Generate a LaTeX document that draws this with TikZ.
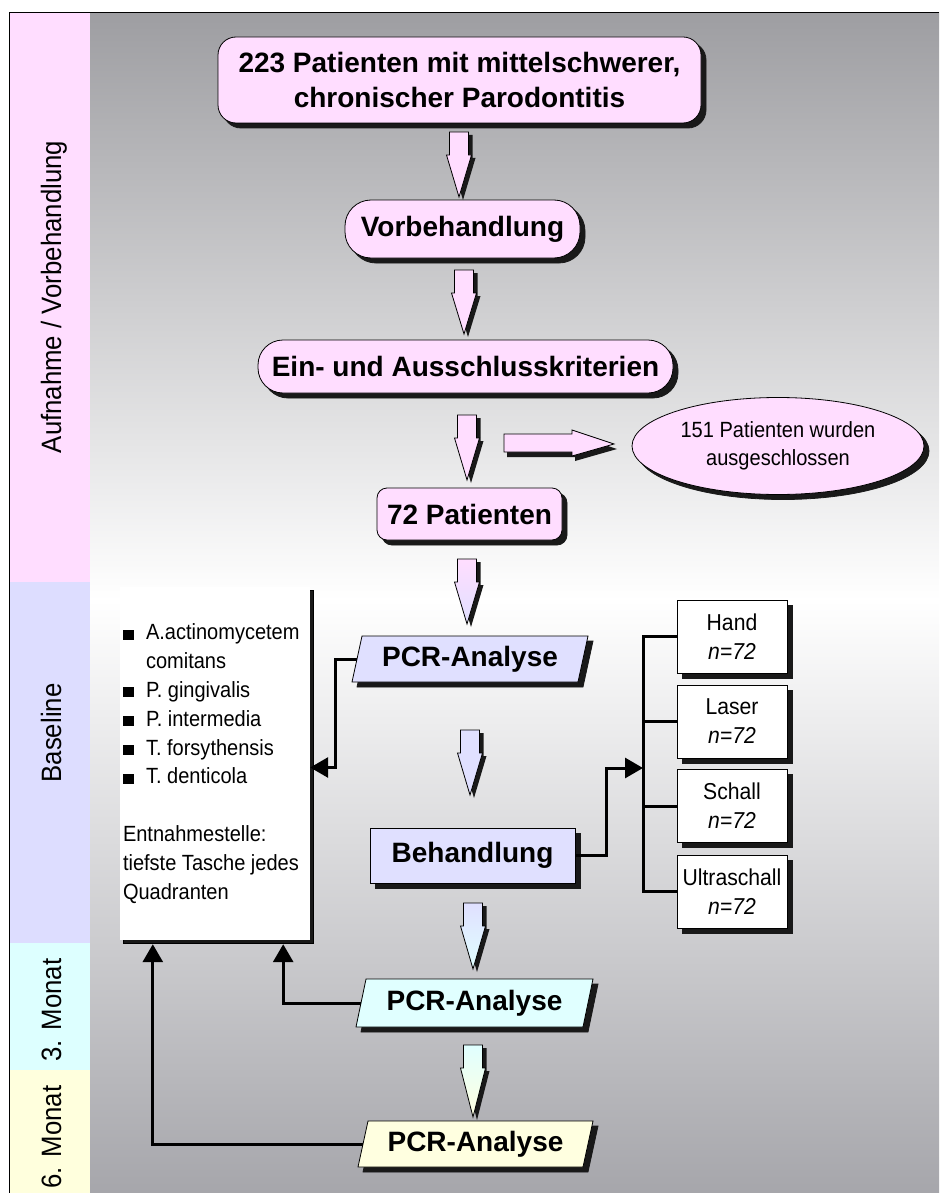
\documentclass[tikz,border=0pt]{standalone}
\usepackage{fontspec}
\setmainfont{Liberation Sans}
\newfontfamily\listfont[FakeStretch=0.91]{Liberation Sans}
\newfontfamily\sidefont[FakeStretch=0.92]{Liberation Sans}
\newfontfamily\boxfont[FakeStretch=0.92]{Liberation Sans}
\usetikzlibrary{shapes.geometric,arrows.meta,shadows}

\definecolor{pinkf}{RGB}{255,221,255}
\definecolor{lavf}{RGB}{224,224,255}
\definecolor{cyanf}{RGB}{224,255,255}
\definecolor{yelf}{RGB}{255,255,224}
\definecolor{bandpink}{RGB}{255,221,255}
\definecolor{bandblue}{RGB}{221,221,255}
\definecolor{bandcyan}{RGB}{221,255,255}
\definecolor{bandyel}{RGB}{255,255,221}
\definecolor{bgtop}{RGB}{158,158,162}
\definecolor{bgbot}{RGB}{166,166,171}
\definecolor{shd}{RGB}{25,25,25}

\newcommand\blockdown[5]{%
  \fill[shd,shift={(4,3)}] ({#1-9.5},{#2}) -- ({#1+9.5},{#2}) -- ({#1+9.5},{#2+23}) -- ({#1+12.5},{#2+23}) -- ({#1},{#3}) -- ({#1-12.5},{#2+23}) -- ({#1-9.5},{#2+23}) -- cycle;
  \draw[black,line width=0.8pt,top color=#4,bottom color=#5] ({#1-9.5},{#2}) -- ({#1+9.5},{#2}) -- ({#1+9.5},{#2+23}) -- ({#1+12.5},{#2+23}) -- ({#1},{#3}) -- ({#1-12.5},{#2+23}) -- ({#1-9.5},{#2+23}) -- cycle;
}

\tikzset{
  sh/.style={copy shadow={shadow xshift=5pt,shadow yshift=-5pt,fill=shd,draw=shd}},
  bigbox/.style={draw=black,line width=0.8pt,sh,font=\bfseries\fontsize{28}{35}\selectfont,align=center,inner sep=0pt},
  pcr/.style={bigbox,shape=trapezium,trapezium left angle=69,trapezium right angle=111,trapezium stretches body},
  treat/.style={draw=black,line width=0.8pt,fill=white,sh,minimum width=110pt,minimum height=73pt,inner sep=0pt,align=center,font=\boxfont\fontsize{23}{29}\selectfont},
  side/.style={rotate=90,anchor=base,font=\sidefont\fontsize{28}{30}\selectfont},
  conn/.style={line width=3pt,-{Triangle[length=18pt,width=20pt]}},
  bus/.style={line width=3pt,line cap=rect},
}

\begin{document}
\begin{tikzpicture}[x=1pt,y=-1pt]
\useasboundingbox (0,0) rectangle (939,1193);
\fill[white] (0,0) rectangle (939,1193);
% background
\shade[top color=bgtop,bottom color=white] (90,13) rectangle (939,600);
\shade[top color=white,bottom color=bgbot] (90,600) rectangle (939,1193);
% side bands
\fill[bandpink] (9,13) rectangle (90,582);
\fill[bandblue] (9,582) rectangle (90,943);
\fill[bandcyan] (9,943) rectangle (90,1070);
\fill[bandyel] (9,1070) rectangle (90,1193);
\draw[line width=1pt] (9,1193) -- (9,13) -- (939,13);
% side labels
\node[side] (lab1) at (61,297) {Aufnahme / Vorbehandlung};
\node[side] (lab2) at (61,733) {Baseline};
\node[side] (lab3) at (61,1010) {3. Monat};
\node[side] (lab4) at (61,1137) {6. Monat};

% main boxes
\node[bigbox,fill=pinkf,rounded corners=18pt,minimum width=483pt,minimum height=86pt] (b1) at (459.5,80) {223 Patienten mit mittelschwerer,\\chronischer Parodontitis};
\node[bigbox,fill=pinkf,rounded corners=26pt,minimum width=235pt,minimum height=58pt] (b2) at (462.5,229) {Vorbehandlung};
\node[bigbox,fill=pinkf,rounded corners=25pt,minimum width=415pt,minimum height=53pt] (b3) at (465.5,366.5) {Ein- und Ausschlusskriterien};
\node[bigbox,fill=pinkf,rounded corners=10pt,minimum width=185pt,minimum height=52pt] (b4) at (469.5,514) {72 Patienten};
\node[draw=black,line width=0.8pt,fill=pinkf,ellipse,sh,minimum width=292pt,minimum height=97pt,inner sep=0pt,align=center,font=\listfont\fontsize{22}{28}\selectfont] (ex) at (778,446) {151 Patienten wurden\\ausgeschlossen};

\node[pcr,fill=lavf,minimum width=236pt,minimum height=46pt] (p1) at (470,659) {PCR-Analyse};
\node[bigbox,fill=lavf,minimum width=205pt,minimum height=55pt] (beh) at (472.5,855.5) {Behandlung};
\node[pcr,fill=cyanf,minimum width=237pt,minimum height=48pt] (p2) at (474.5,1003) {PCR-Analyse};
\node[pcr,fill=yelf,minimum width=235pt,minimum height=46pt] (p3) at (475.5,1144) {PCR-Analyse};

% list box
\node[fill=white,copy shadow={shadow xshift=3pt,shadow yshift=-3pt,fill=shd},minimum width=190pt,minimum height=353pt,inner sep=0pt] (list) at (215,763.5) {};
\node[anchor=west,inner sep=0pt,align=left,font=\listfont\fontsize{22}{28.8}\selectfont] (listtxt) at ([xshift=3pt]list.west) {%
\makebox[23pt][l]{\rule{11pt}{10pt}}A.actinomycetem\\
\hspace*{23pt}comitans\\
\makebox[23pt][l]{\rule{11pt}{10pt}}P. gingivalis\\
\makebox[23pt][l]{\rule{11pt}{10pt}}P. intermedia\\
\makebox[23pt][l]{\rule{11pt}{10pt}}T. forsythensis\\
\makebox[23pt][l]{\rule{11pt}{10pt}}T. denticola\\[28.8pt]
Entnahmestelle:\\
tiefste Tasche jedes\\
Quadranten};

% treatment boxes
\node[treat] (hand) at (732,636.5) {Hand\\\textit{n=72}};
\node[treat] (laser) at (732,721.5) {Laser\\\textit{n=72}};
\node[treat] (schall) at (732,806) {Schall\\\textit{n=72}};
\node[treat] (ultra) at (732,891.5) {Ultraschall\\\textit{n=72}};

% block arrows
\blockdown{459}{132}{197}{pinkf}{pinkf}
\blockdown{464}{270}{334}{pinkf}{pinkf}
\blockdown{467}{415}{480}{pinkf}{pinkf}
\blockdown{467}{559}{624}{pinkf}{lavf}
\blockdown{470}{730}{795}{lavf}{lavf}
\blockdown{473}{903}{969}{lavf}{cyanf}
\blockdown{473}{1045}{1117}{cyanf}{yelf}

% right arrow
\fill[shd,shift={(3,5)}] (504,434) -- (572,434) -- (572,430) -- (614,444) -- (572,456) -- (572,452) -- (504,452) -- cycle;
\draw[black,line width=0.8pt,fill=pinkf] (504,434) -- (572,434) -- (572,430) -- (614,444) -- (572,456) -- (572,452) -- (504,452) -- cycle;

% connectors
\coordinate (busin) at (643,768);
\draw[conn] (p1.west) -- ++(-21,0) |- ([yshift=-4pt]list.east);
\draw[conn] (p2.west) -| ([xshift=-27pt,yshift=-4pt]list.south east);
\draw[conn] (p3.west) -| ([xshift=33pt,yshift=-4pt]list.south west);
\draw[conn] (beh.east) -- ++(31,0) |- (busin);
\draw[bus] (hand.west -| busin) -- (ultra.west -| busin);
\draw[bus] (hand.west) -- (hand.west -| busin);
\draw[bus] (laser.west) -- (laser.west -| busin);
\draw[bus] (schall.west) -- (schall.west -| busin);
\draw[bus] (ultra.west) -- (ultra.west -| busin);
\end{tikzpicture}
\end{document}
